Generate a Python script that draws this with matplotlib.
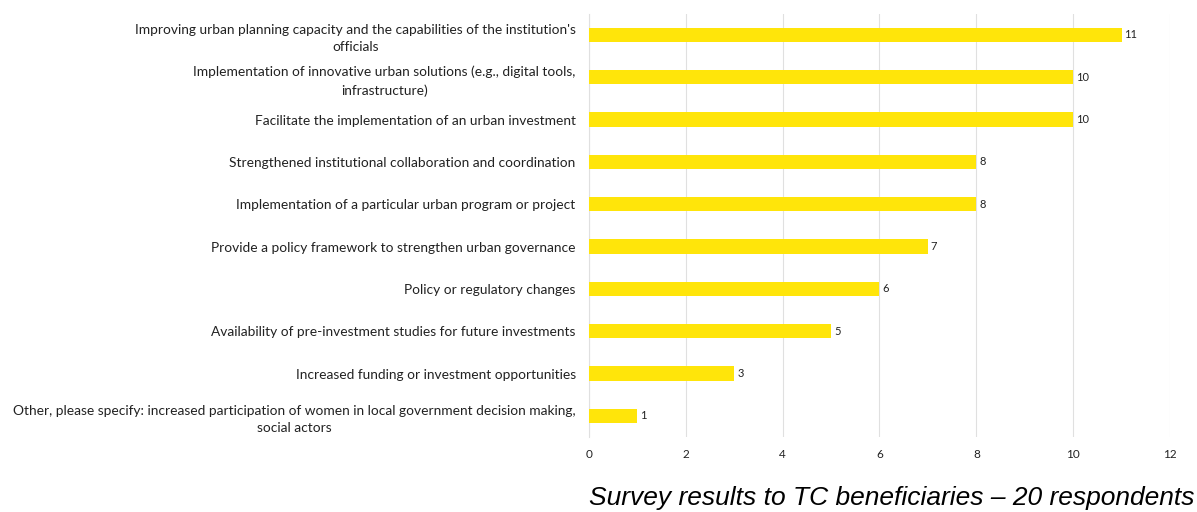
import matplotlib.pyplot as plt

categories = [
    "Improving urban planning capacity and the capabilities of the institution's\nofficials",
    "Implementation of innovative urban solutions (e.g., digital tools,\ninfrastructure)",
    "Facilitate the implementation of an urban investment",
    "Strengthened institutional collaboration and coordination",
    "Implementation of a particular urban program or project",
    "Provide a policy framework to strengthen urban governance",
    "Policy or regulatory changes",
    "Availability of pre-investment studies for future investments",
    "Increased funding or investment opportunities",
    "Other, please specify: increased participation of women in local government decision making,\nsocial actors",
]
counts = [11, 10, 10, 8, 8, 7, 6, 5, 3, 1]
xticks = [0, 2, 4, 6, 8, 10, 12]

label_font = "Lato"
bar_color = "#FFE50A"

fig = plt.figure(figsize=(11.97, 5.12), dpi=100)
ax = fig.add_axes([0.492, 0.1465, 0.4855, 0.8265])

pos = list(range(len(categories)))
ax.barh(pos, counts, height=0.34, color=bar_color, zorder=3)
ax.set_ylim(len(categories) - 0.5, -0.5)
ax.set_xlim(0, 12)

for p, v in zip(pos, counts):
    ax.text(v + 0.06, p, str(v), va="center", ha="left", fontsize=8,
            family=label_font, color="#222222")

ax.set_yticks(pos)
ax.set_yticklabels(categories, fontsize=9.9, family=label_font,
                   multialignment="center", linespacing=1.55, color="#222222")
ax.tick_params(axis="y", length=0, pad=9.5)

ax.set_xticks(xticks)
ax.set_xticklabels([str(t) for t in xticks], fontsize=8.5, family=label_font,
                   color="#222222")
ax.tick_params(axis="x", length=0, pad=9)

ax.grid(axis="x", color="#e0e0e0", linewidth=0.8, zorder=0)
for s in ["top", "right", "bottom"]:
    ax.spines[s].set_visible(False)
ax.spines["left"].set_color("#e0e0e0")
ax.spines["left"].set_linewidth(0.8)

fig.text(0.998, 0.027, "Survey results to TC beneficiaries \u2013 20 respondents",
         ha="right", va="center", fontsize=19, style="italic",
         family="Liberation Sans", color="#000000")

fig.savefig("out.png", dpi=100)
